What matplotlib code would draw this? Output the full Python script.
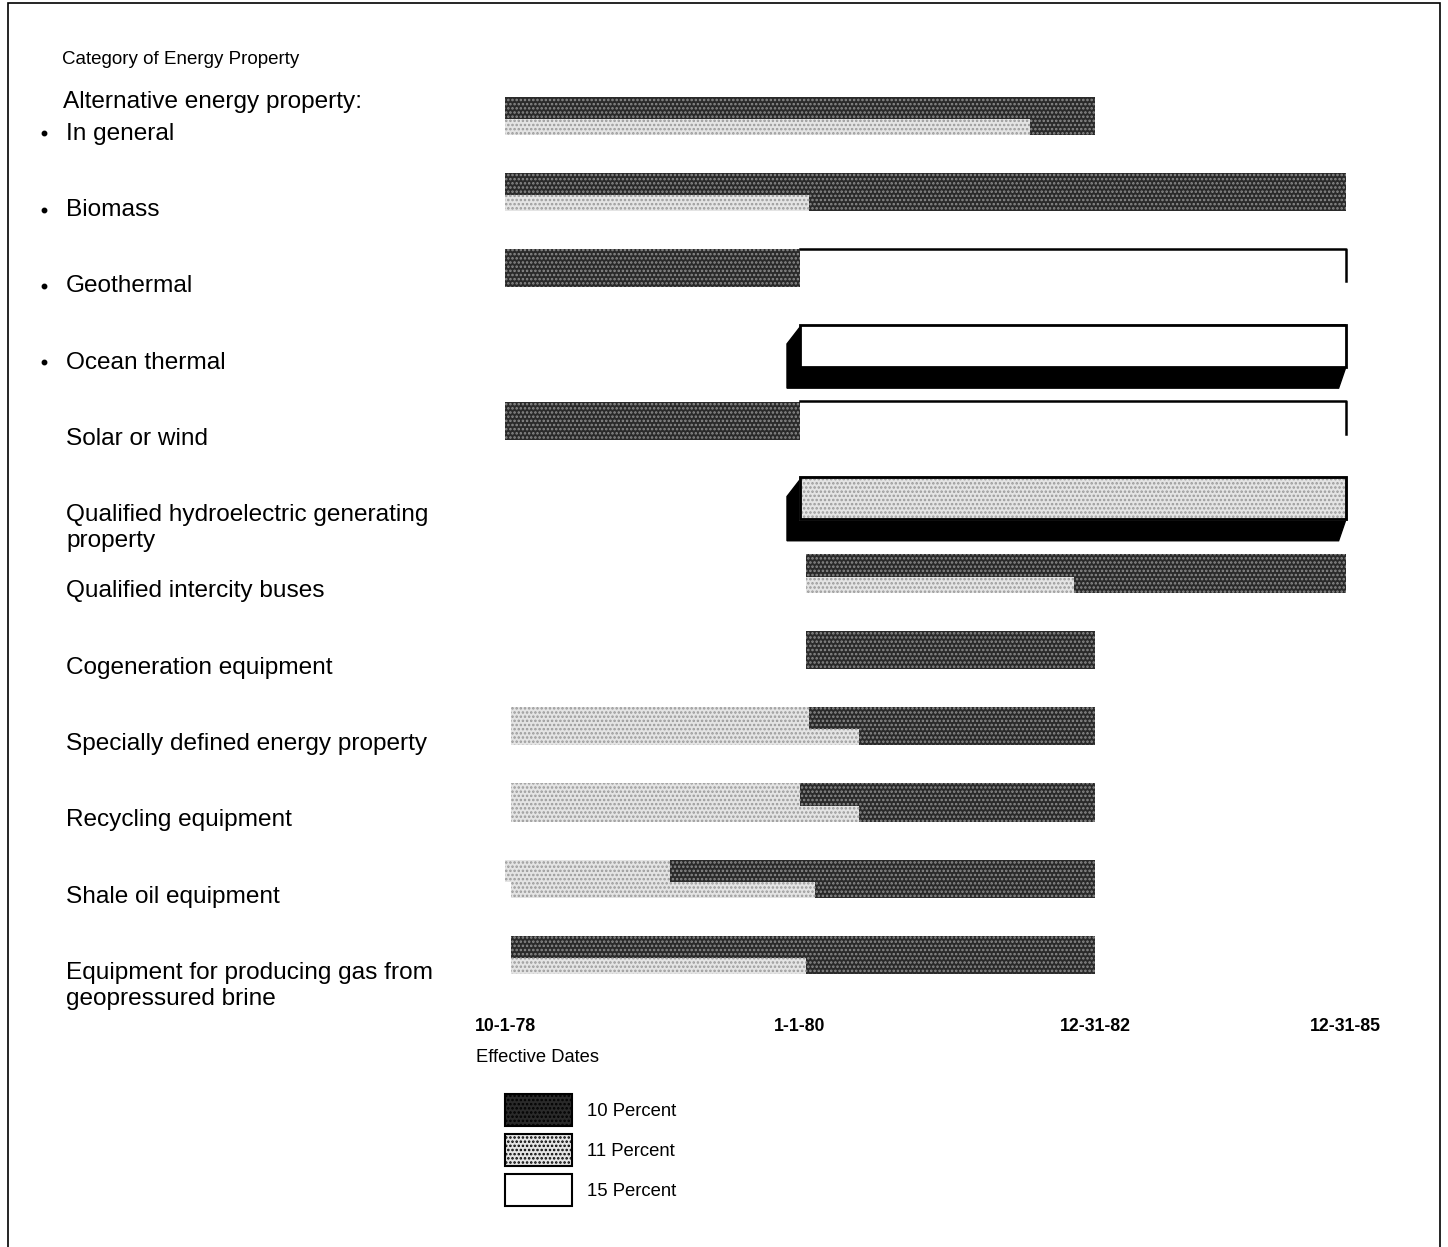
import matplotlib.pyplot as plt
import matplotlib.transforms as mtransforms
from matplotlib.patches import Patch, Polygon, Rectangle

plt.rcParams['font.family'] = ['Liberation Sans', 'DejaVu Sans']
plt.rcParams['hatch.linewidth'] = 1.2

# categories of energy property (top to bottom)
categories = ['In general', 'Biomass', 'Geothermal', 'Ocean thermal',
              'Solar or wind', 'Qualified hydroelectric generating\nproperty',
              'Qualified intercity buses', 'Cogeneration equipment',
              'Specially defined energy property', 'Recycling equipment',
              'Shale oil equipment',
              'Equipment for producing gas from\ngeopressured brine']
bulleted = [True, True, True, True, False, False, False, False, False, False, False, False]

# effective dates on the x axis (placed at these positions)
date_labels = ['10-1-78', '1-1-80', '12-31-82', '12-31-85']
date_pos = [0, 1, 2, 2.85]

# credit periods as (start, end, percent), upper and lower halves of each bar
upper = [
    [(0, 2, 10)],
    [(0, 2.85, 10)],
    [(0, 1, 10), (1, 2.85, 15)],
    [(1, 2.85, 15)],
    [(0, 1, 10), (1, 2.85, 15)],
    [(1, 2.85, 11)],
    [(1.02, 2.85, 10)],
    [(1.02, 2, 10)],
    [(0.02, 1.03, 11), (1.03, 2, 10)],
    [(0.02, 1.0, 11), (1.0, 2, 10)],
    [(0, 0.56, 11), (0.56, 2, 10)],
    [(0.02, 2, 10)],
]
lower = [
    [(0, 1.78, 11), (1.78, 2, 10)],
    [(0, 1.03, 11), (1.03, 2.85, 10)],
    [(0, 1, 10), (1, 2.85, 15)],
    [(1, 2.85, 15)],
    [(0, 1, 10), (1, 2.85, 15)],
    [(1, 2.85, 11)],
    [(1.02, 1.93, 11), (1.93, 2.85, 10)],
    [(1.02, 2, 10)],
    [(0.02, 1.2, 11), (1.2, 2, 10)],
    [(0.02, 1.2, 11), (1.2, 2, 10)],
    [(0.02, 1.05, 11), (1.05, 2, 10)],
    [(0.02, 1.02, 11), (1.02, 2, 10)],
]
raised = ['Ocean thermal', 'Qualified hydroelectric generating\nproperty']

legend_labels = ['10 Percent', '11 Percent', '15 Percent']

style = {
    10: dict(facecolor='#2a2a2a', edgecolor='#8c8c8c', hatch='....', linewidth=0),
    11: dict(facecolor='#e4e4e4', edgecolor='#9a9a9a', hatch='....', linewidth=0),
    15: dict(facecolor='white', edgecolor='black', linewidth=0),
}

fig = plt.figure(figsize=(14.48, 12.47), dpi=100)
ax = fig.add_axes([470 / 1448, 1 - 1010 / 1247, 940 / 1448, 950 / 1247])
ax.set_xlim(-0.1186, 3.068)
ax.set_ylim(11.73, -0.721)

for i, (up, lo) in enumerate(zip(upper, lower)):
    name = categories[i]
    if name in raised:
        s, e, r = up[0]
        shadow = Polygon([(s, i - 0.22), (s - 0.044, i), (s - 0.044, i + 0.58),
                          (e - 0.024, i + 0.58), (e, i + 0.31), (e, i - 0.25)],
                         closed=True, facecolor='black', edgecolor='black')
        ax.add_patch(shadow)
        st = dict(style[r])
        st['linewidth'] = 2
        st['edgecolor'] = 'black' if r == 15 else '#9a9a9a'
        ax.barh(i - 0.25, e - s, height=0.55, left=s, align='edge', **st)
        if r != 15:
            ax.add_patch(Rectangle((s, i - 0.25), e - s, 0.55, fill=False,
                                   edgecolor='black', linewidth=2))
        continue
    if up == lo:
        for s, e, r in up:
            ax.barh(i - 0.24, e - s, height=0.5, left=s, align='edge', **style[r])
            if r == 15:
                ax.plot([s, e, e], [i - 0.25, i - 0.25, i + 0.18], color='black', lw=1.8)
    else:
        for s, e, r in up:
            ax.barh(i - 0.24, e - s, height=0.29, left=s, align='edge', **style[r])
        for s, e, r in lo:
            ax.barh(i + 0.05, e - s, height=0.21, left=s, align='edge', **style[r])

ax.set_xticks(date_pos)
ax.set_xticklabels(date_labels, fontsize=12.7, fontweight='bold')
ax.tick_params(axis='x', length=0, pad=5.5)
ax.set_yticks([])
for sp in ax.spines.values():
    sp.set_visible(False)

# category labels on the left
trans = mtransforms.blended_transform_factory(fig.transFigure, ax.transData)
for i, name in enumerate(categories):
    ax.text(66 / 1448, i + 0.1, name, transform=trans, fontsize=17.6, va='top',
            ha='left', linespacing=1.25)
    if bulleted[i]:
        ax.plot([44 / 1448], [i + 0.24], transform=trans, marker='o',
                markersize=3.2, color='black', clip_on=False)
ax.text(63 / 1448, -0.17, 'Alternative energy property:', transform=trans,
        fontsize=17.6, va='center', ha='left')

fig.text(62 / 1448, 1 - 59 / 1247, 'Category of Energy Property', fontsize=13.5,
         va='center', ha='left')
fig.text(476 / 1448, 1 - 1057 / 1247, 'Effective Dates', fontsize=13.2,
         va='center', ha='left')

handles = [Patch(**style[10]), Patch(**style[11]), Patch(**style[15])]
leg = fig.legend(handles, legend_labels, loc='upper left',
                 bbox_to_anchor=(505 / 1448, 1 - 1094 / 1247), frameon=False,
                 fontsize=13.3, handlelength=3.6, handleheight=2.3,
                 labelspacing=0.42, handletextpad=0.85, borderpad=0,
                 borderaxespad=0)
for h in leg.legend_handles:
    h.set_edgecolor('black')
    h.set_linewidth(1.5)

# page border
fig.add_artist(Rectangle((8 / 1448, -0.05), (1440 - 8) / 1448, 1.05 - 3 / 1247,
                         transform=fig.transFigure, fill=False,
                         edgecolor='black', linewidth=1.2))

fig.savefig('out.png', dpi=100)
